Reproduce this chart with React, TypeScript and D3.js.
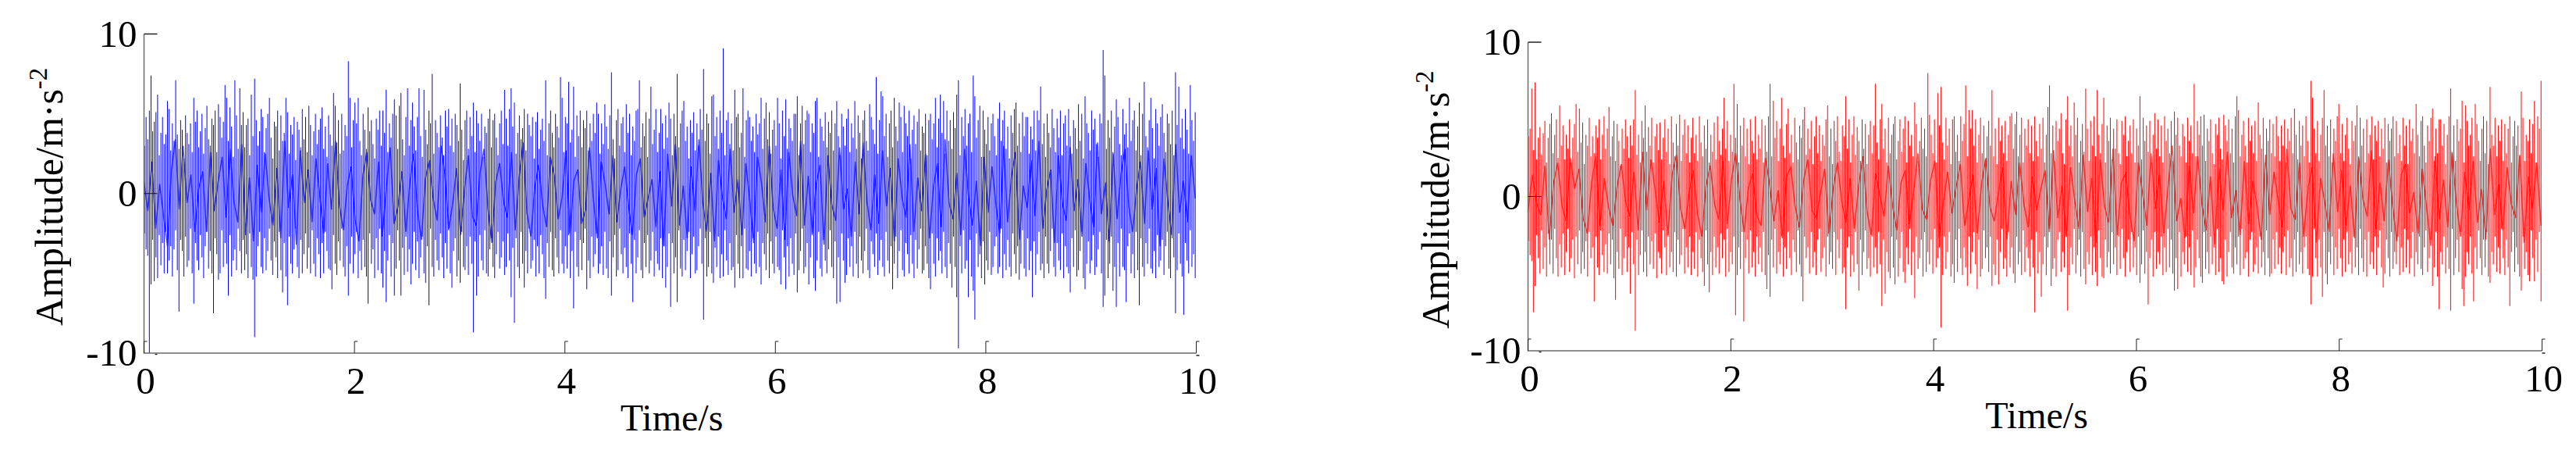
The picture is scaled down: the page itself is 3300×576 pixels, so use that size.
// Two vibration traces side by side. Each trace is stored per drawn column (max / min, in 0.1 m/s²)
// plus a fast core wander that shows as the dark blobs round zero.
import * as d3 from "d3";

const xTicks = [0, 2, 4, 6, 8, 10];
const yTicks = [-10, 0, 10];

const blueHigh = [
  30,48,34,52,74,39,45,51,62,24,38,48,31,37,58,53,27,44,33,71,
  37,28,46,40,22,49,38,31,44,26,60,45,52,29,39,50,25,41,55,34,
  30,47,43,52,26,56,48,35,45,68,60,33,54,42,23,71,49,28,66,43,
  51,29,43,47,24,62,36,72,46,30,39,53,48,26,41,50,60,35,22,45,
  42,52,27,49,33,38,60,51,25,43,37,48,21,45,40,29,53,34,48,26,
  55,43,24,39,50,31,40,47,54,28,42,23,49,37,30,63,55,32,46,25,
  50,27,43,36,83,60,29,46,57,44,60,33,24,50,40,28,54,39,46,31,
  22,47,40,52,30,52,38,65,26,44,35,50,59,49,28,55,63,34,24,48,
  66,30,46,57,42,27,48,66,36,23,65,40,31,52,44,75,25,46,38,29,
  49,35,24,52,42,53,30,47,26,50,43,33,69,40,21,46,52,28,48,36,
  57,26,52,44,33,50,23,42,38,47,53,29,46,50,35,24,44,52,31,65,
  47,30,53,66,42,57,25,38,49,34,41,53,27,50,43,36,48,22,45,51,
  28,40,47,33,71,24,44,52,38,29,50,42,35,73,60,26,48,44,70,32,
  40,67,23,49,36,52,29,46,41,52,27,44,33,50,38,57,50,25,44,31,
  56,42,28,49,76,34,22,46,53,30,44,48,26,56,38,50,24,42,33,52,
  53,71,29,44,36,51,23,47,67,31,40,53,26,38,53,44,28,49,35,57,
  47,24,50,36,75,29,44,52,58,33,42,22,46,38,51,27,44,30,53,40,
  78,33,50,44,25,61,62,36,48,28,52,38,91,24,46,51,31,44,27,65,
  48,50,29,38,66,23,46,52,48,33,42,26,50,37,44,60,28,47,57,34,
  51,25,40,46,30,60,44,22,52,36,59,28,47,41,33,50,50,61,24,44,
  55,31,46,52,50,26,44,38,58,60,23,47,42,33,51,29,45,38,52,27,
  44,58,36,24,50,42,30,47,53,26,44,35,58,28,49,38,22,46,52,33,
  27,56,48,40,31,73,25,46,64,61,36,50,23,44,52,29,60,42,33,57,
  48,26,55,44,36,52,22,40,49,31,45,53,27,42,38,50,24,46,50,34,
  44,60,29,47,62,38,58,25,52,33,46,28,51,41,62,71,24,48,36,53,
  30,44,50,26,74,61,35,46,55,23,52,40,31,48,27,44,50,36,24,47,
  57,33,46,52,28,42,22,49,38,53,57,30,44,26,51,36,48,48,25,42,
  34,52,27,52,46,67,31,44,23,50,38,29,53,41,26,47,35,52,24,44,
  49,30,53,36,25,46,41,28,56,33,50,22,61,44,38,27,52,40,47,31,
  23,50,44,90,74,28,46,35,52,26,42,59,48,31,24,53,37,44,29,60,
  33,46,52,27,42,57,24,50,70,36,29,46,60,41,22,53,44,30,48,56,
  38,26,50,44,31,52,24,76,43,67,35,47,28,53,40,25,68,46,33,51,
];
const blueLow = [
  -25,-35,-39,-100,-57,-29,-55,-40,-53,-26,-45,-31,-50,-24,-50,-42,-33,-52,-35,-23,
  -48,-74,-29,-36,-52,-27,-46,-42,-22,-50,-69,-31,-42,-48,-26,-40,-53,-33,-24,-47,
  -36,-50,-75,-28,-38,-54,-50,-23,-46,-31,-44,-64,-26,-52,-42,-35,-48,-22,-36,-50,
  -29,-48,-38,-53,-25,-46,-54,-90,-52,-33,-24,-46,-50,-28,-48,-36,-22,-42,-51,-30,
  -40,-53,-24,-48,-62,-31,-52,-70,-27,-44,-50,-35,-22,-46,-53,-29,-50,-38,-25,-47,
  -34,-50,-23,-44,-52,-28,-38,-53,-31,-50,-24,-36,-47,-48,-60,-26,-44,-51,-30,-42,
  -22,-46,-52,-33,-64,-44,-27,-50,-38,-24,-53,-36,-48,-29,-46,-52,-69,-25,-44,-35,
  -53,-28,-48,-22,-50,-59,-36,-68,-42,-26,-52,-31,-64,-47,-23,-42,-64,-34,-51,-27,
  -49,-35,-57,-44,-24,-48,-30,-53,-40,-27,-50,-56,-33,-70,-22,-46,-52,-29,-42,-48,
  -25,-40,-53,-31,-47,-23,-50,-59,-36,-28,-52,-42,-56,-24,-46,-48,-33,-51,-27,-44,
  -87,-30,-64,-52,-26,-42,-48,-23,-50,-52,-35,-28,-46,-53,-38,-24,-47,-40,-30,-51,
  -46,-25,-42,-65,-34,-81,-28,-46,-53,-24,-44,-59,-36,-50,-22,-47,-42,-29,-52,-33,
  -50,-26,-38,-53,-66,-31,-46,-24,-48,-52,-28,-40,-50,-23,-44,-50,-33,-47,-26,-53,
  -36,-72,-24,-46,-52,-29,-48,-31,-22,-60,-42,-53,-27,-46,-38,-25,-50,-44,-33,-51,
  -24,-47,-53,-30,-64,-40,-26,-52,-48,-22,-38,-50,-34,-46,-53,-25,-44,-68,-29,-50,
  -40,-23,-48,-53,-31,-46,-26,-50,-42,-24,-52,-36,-44,-48,-28,-53,-33,-59,-46,-25,
  -71,-31,-50,-40,-68,-23,-47,-52,-29,-48,-36,-24,-53,-38,-27,-50,-48,-33,-22,-44,
  -79,-28,-52,-46,-24,-50,-56,-34,-46,-27,-53,-38,-52,-23,-42,-51,-31,-48,-46,-59,
  -26,-44,-53,-33,-53,-22,-47,-48,-36,-52,-28,-44,-50,-24,-46,-57,-31,-38,-48,-25,
  -53,-30,-44,-50,-27,-46,-48,-57,-23,-40,-60,-33,-52,-28,-44,-51,-25,-62,-48,-36,
  -22,-50,-46,-31,-57,-40,-26,-53,-61,-42,-24,-47,-52,-29,-42,-50,-35,-23,-46,-53,
  -30,-69,-40,-68,-25,-42,-56,-51,-28,-46,-33,-52,-24,-44,-53,-27,-42,-50,-36,-22,
  -48,-53,-30,-38,-46,-25,-51,-42,-29,-46,-52,-24,-42,-50,-33,-60,-44,-27,-53,-36,
  -23,-48,-52,-31,-38,-50,-26,-44,-53,-29,-47,-35,-22,-50,-48,-33,-44,-53,-60,-25,
  -44,-52,-28,-42,-36,-50,-24,-46,-53,-31,-44,-59,-27,-46,-65,-97,-33,-50,-23,-47,
  -42,-65,-29,-52,-61,-79,-25,-46,-38,-53,-30,-57,-42,-48,-24,-51,-46,-33,-27,-50,
  -46,-22,-53,-38,-48,-29,-46,-52,-25,-38,-50,-33,-54,-44,-23,-47,-52,-28,-48,-36,
  -65,-30,-51,-38,-24,-48,-44,-53,-27,-44,-50,-36,-22,-46,-52,-31,-42,-48,-25,-53,
  -33,-46,-50,-62,-28,-46,-23,-52,-48,-36,-24,-53,-60,-44,-30,-50,-42,-26,-51,-46,
  -35,-24,-50,-71,-64,-29,-53,-44,-27,-61,-46,-71,-31,-52,-22,-46,-48,-68,-33,-25,
  -50,-38,-53,-24,-48,-70,-28,-46,-52,-31,-44,-22,-47,-50,-36,-53,-26,-46,-42,-29,
  -51,-33,-24,-47,-53,-28,-40,-75,-48,-25,-44,-52,-76,-31,-42,-50,-23,-46,-38,-53,
];
const blueCore = [
  7,-11,20,-22,6,-14,-33,14,34,-10,30,-6,12,-24,3,14,-24,26,-11,8,23,-15,28,-5,-18,31,-26,10,-30,18,
  -12,25,-3,-20,16,-28,33,-9,12,-32,27,-6,15,-18,22,-2,-25,19,-10,33,-7,-23,5,17,-16,-30,11,26,-4,-13,
  20,-27,3,29,-19,-8,14,-24,6,25,-11,-29,9,21,-3,-17,30,12,-22,-6,16,-26,2,24,-14,-20,13,28,-9,-31,
  7,19,-5,-15,26,-23,10,32,-12,-27,4,18,-7,-21,23,11,-16,-2,27,-25,8,15,-19,-10,29,-4,-28,20,6,-13,
  24,-18,3,17,-8,-26,12,22,-15,-3,9,-21,14,-33,25,-8,31,-20,5,-28,17,-11,34,-6,-24,13,-30,21,-2,-16,
  28,-12,9,-26,19,-4,-31,23,7,-18,30,-9,-22,15,-29,26,-1,-14,33,-20,11,-25,6,18,-32,24,-7,-17,29,-10,
  3,-27,20,-13,32,-5,-23,12,-19,27,-8,16,-30,22,-3,-15,31,-24,10,-11,25,-28,4,19,-21,34,-6,-16,13,-26,
  28,-2,-20,8,-33,23,-12,17,-7,-25,30,-18,11,26,-29,5,-9,21,-14,33,-22,2,15,-31,24,-6,-17,29,-11,9,
  -27,19,-4,-21,32,-13,7,-30,25,-16,12,28,-8,-24,3,20,-19,27,-10,16,-33,22,-5,-26,31,-12,8,-18,24,-3,
];

const redHigh = [
  39,44,70,30,74,24,38,45,27,41,49,22,38,47,54,28,40,50,25,59,
  33,46,24,40,31,50,22,38,47,60,29,57,35,48,21,40,33,51,26,39,
  28,46,38,50,24,40,52,31,44,58,26,39,49,23,47,36,20,44,31,50,
  39,25,46,33,50,69,27,40,22,49,38,59,29,45,33,51,22,39,47,30,
  48,24,38,50,29,44,21,52,35,26,47,33,53,23,40,50,28,46,22,38,
  51,28,40,23,52,35,26,46,31,50,22,40,29,48,24,52,36,27,44,64,
  31,49,23,40,29,73,38,60,22,46,33,51,26,44,21,50,36,28,52,24,
  40,31,50,22,46,29,52,73,26,62,38,49,23,44,64,33,25,47,57,28,
  40,22,51,35,24,46,38,50,58,27,44,31,49,21,39,52,28,46,23,40,
  33,50,59,26,44,21,49,36,52,29,23,46,39,65,31,50,22,40,52,27,
  45,36,23,50,31,47,21,40,49,28,46,73,35,24,50,60,31,44,22,51,
  28,40,47,52,24,36,50,29,44,52,22,49,33,40,26,61,47,23,36,51,
  31,44,26,80,53,40,28,50,22,67,46,71,35,24,51,33,44,21,50,52,
  29,40,23,52,36,47,72,26,56,44,56,33,50,22,40,51,28,46,24,39,
  49,33,69,26,44,21,51,36,46,28,49,23,40,52,54,31,47,55,26,40,
  51,22,44,33,50,28,46,23,52,36,26,47,31,51,22,40,58,72,28,46,
  23,49,36,44,54,28,21,50,65,33,46,26,61,40,51,22,36,47,29,70,
  44,23,49,33,52,26,69,40,28,47,64,22,46,36,51,24,44,31,50,28,
  21,49,40,52,26,36,46,28,50,22,44,33,65,24,51,36,46,29,49,22,
  40,54,31,50,26,46,22,52,36,44,28,49,23,55,40,51,33,26,47,39,
  22,51,36,46,28,73,26,49,40,52,33,53,23,44,36,50,28,21,47,40,
  51,31,24,53,46,36,50,28,44,22,52,65,56,26,40,49,33,22,51,36,
  46,28,49,23,61,40,31,51,22,44,36,50,28,47,26,52,39,23,46,33,
  50,22,44,36,51,28,57,40,24,49,33,46,26,52,36,22,75,64,44,28,
  49,23,40,51,69,33,46,26,50,22,44,36,52,60,28,47,23,40,51,31,
  21,49,36,46,59,26,51,33,44,22,50,28,40,52,24,46,36,49,26,44,
  31,51,22,47,36,44,52,26,49,28,40,23,51,33,46,21,50,36,44,28,
  60,40,26,49,52,33,22,46,36,51,57,23,44,28,50,50,33,47,21,40,
  52,70,28,46,23,50,36,44,62,22,59,49,33,40,51,26,60,47,36,23,
  44,52,28,49,21,71,40,33,51,26,46,36,50,23,47,28,44,52,22,39,
  49,33,46,26,68,51,23,40,36,50,28,47,62,22,52,44,75,
];
const redLow = [
  -29,-38,-42,-75,-58,-25,-40,-50,-22,-47,-33,-52,-24,-44,-28,-50,-21,-40,-52,-31,
  -46,-24,-51,-36,-21,-49,-40,-28,-53,-26,-44,-22,-50,-36,-47,-29,-52,-23,-40,-33,
  -68,-26,-46,-51,-22,-38,-49,-31,-50,-24,-44,-28,-53,-67,-36,-47,-21,-51,-40,-26,
  -49,-33,-63,-23,-44,-87,-28,-51,-38,-22,-49,-36,-52,-26,-44,-29,-47,-24,-53,-36,
  -40,-50,-22,-33,-51,-26,-46,-36,-49,-23,-52,-28,-44,-38,-21,-50,-33,-46,-26,-51,
  -36,-47,-23,-52,-28,-40,-49,-58,-22,-44,-62,-36,-51,-26,-46,-33,-50,-24,-40,-28,
  -52,-21,-49,-36,-44,-26,-77,-51,-33,-47,-23,-81,-40,-28,-50,-22,-46,-36,-52,-26,
  -44,-33,-49,-23,-51,-60,-38,-65,-28,-46,-21,-50,-36,-44,-26,-52,-33,-47,-23,-40,
  -51,-28,-36,-49,-22,-44,-52,-68,-26,-40,-33,-50,-23,-46,-36,-51,-28,-21,-49,-40,
  -33,-52,-26,-44,-36,-47,-23,-51,-28,-40,-21,-50,-46,-73,-33,-26,-52,-38,-49,-23,
  -44,-61,-28,-51,-36,-22,-47,-40,-52,-26,-46,-33,-50,-23,-44,-71,-28,-63,-36,-49,
  -53,-26,-46,-57,-28,-52,-40,-23,-49,-56,-33,-44,-21,-51,-36,-66,-26,-47,-40,-28,
  -52,-23,-49,-36,-44,-28,-50,-21,-46,-40,-33,-85,-51,-26,-47,-36,-23,-52,-44,-56,
  -28,-49,-21,-40,-51,-33,-46,-58,-26,-50,-36,-23,-44,-60,-28,-52,-47,-22,-40,-33,
  -49,-26,-58,-44,-51,-28,-57,-36,-21,-47,-40,-52,-23,-46,-33,-50,-56,-26,-44,-36,
  -51,-22,-49,-33,-40,-52,-28,-46,-75,-23,-50,-36,-65,-44,-26,-51,-33,-21,-58,-47,
  -40,-52,-28,-23,-49,-36,-46,-26,-74,-51,-33,-44,-21,-50,-38,-28,-52,-23,-47,-57,
  -36,-44,-26,-51,-33,-49,-58,-22,-40,-52,-53,-28,-46,-36,-50,-23,-44,-33,-51,-26,
  -47,-21,-40,-52,-36,-28,-49,-23,-46,-33,-51,-26,-56,-44,-22,-50,-36,-70,-40,-28,
  -52,-23,-47,-36,-44,-26,-51,-33,-49,-21,-46,-28,-50,-61,-40,-60,-23,-52,-36,-44,
  -26,-49,-33,-51,-22,-59,-46,-28,-40,-52,-56,-23,-47,-36,-50,-26,-44,-33,-51,-21,
  -49,-40,-55,-57,-28,-52,-36,-23,-46,-50,-33,-44,-26,-51,-21,-47,-40,-36,-52,-28,
  -23,-49,-44,-33,-50,-26,-46,-36,-51,-22,-40,-52,-50,-28,-47,-23,-44,-33,-50,-36,
  -26,-51,-22,-46,-40,-52,-28,-49,-23,-44,-36,-50,-33,-26,-47,-51,-70,-52,-21,-40,
  -52,-28,-46,-65,-23,-50,-57,-36,-44,-26,-51,-33,-47,-21,-40,-52,-28,-49,-23,-44,
  -36,-50,-26,-46,-33,-51,-21,-40,-49,-28,-52,-23,-44,-36,-47,-26,-51,-33,-22,-46,
  -59,-50,-28,-40,-52,-23,-47,-36,-44,-26,-51,-33,-49,-21,-46,-28,-50,-40,-23,-52,
  -36,-44,-26,-47,-51,-33,-22,-49,-40,-28,-58,-46,-23,-52,-73,-36,-44,-26,-50,-33,
  -47,-74,-21,-51,-40,-28,-49,-23,-60,-71,-52,-36,-44,-26,-50,-68,-33,-47,-22,-40,
  -51,-28,-46,-23,-52,-56,-36,-44,-26,-49,-33,-50,-21,-40,-51,-28,-46,-71,-36,-23,
  -49,-33,-44,-52,-61,-26,-47,-36,-51,-55,-22,-40,-55,-28,-49,-23,-68,
];
const redCore = [
  -10,14,-4,-12,20,-28,8,22,-6,-16,25,5,18,-14,-24,9,26,-19,12,-7,-19,6,21,-3,-13,16,-22,29,-9,24,
  4,-17,10,-25,14,27,-8,-21,3,17,-11,-26,7,20,-5,-15,23,-18,11,28,-2,-23,6,15,-12,-19,25,8,-16,4,
  -27,13,19,-6,-20,10,24,-9,-14,2,18,-24,5,22,-3,-17,12,-21,7,26,-10,-25,15,1,-13,20,-6,-22,9,17,
  -18,4,28,-8,-15,11,23,-27,-4,16,-11,6,21,-19,-2,14,-24,8,25,-7,-16,3,19,-28,10,-12,22,-5,-20,13,
  -9,5,17,-23,30,-14,7,-26,19,-3,-21,27,-10,12,-30,24,-6,-17,31,-25,9,15,-12,-29,22,2,-19,28,-8,14,
  -24,6,33,-16,-1,-27,20,-11,26,-5,-22,13,-31,18,-9,29,-14,4,-25,23,-18,10,-6,-28,27,-12,16,-3,-20,31,
  -8,-15,22,-26,5,19,-30,12,-4,-23,28,-10,17,-19,7,-27,25,-2,-13,30,-21,9,-16,24,-6,-29,14,21,-11,3,
  -24,18,-7,-32,26,-15,11,-20,29,-3,-26,16,-9,23,-17,5,-28,31,-12,8,-22,19,-5,-14,27,-30,13,-8,22,-19,
];

const FONT = "'Liberation Serif', 'Times New Roman', serif";

type PanelProps = {
  high: number[];
  low: number[];
  core: number[];
  color: string;
  x0: number;
  x1: number;
  yTop: number;
  yBottom: number;
  titleX: number;
};

function Panel({ high, low, core, color, x0, x1, yTop, yBottom, titleX }: PanelProps) {
  const x = d3.scaleLinear().domain([0, 10]).range([x0, x1]);
  const y = d3.scaleLinear().domain([-10, 10]).range([yBottom, yTop]);
  const at = d3.scaleLinear().domain([0, high.length - 1]).range([0.004, 9.99]);
  const coreAt = d3.scaleLinear().domain([0, core.length - 1]).range([0, 9.99]);

  // one vertical stroke per column, min to max
  const columns = high
    .map((h, i) => `M${x(at(i))},${y(h / 10)}V${y(low[i] / 10)}`)
    .join("");
  const coreLine = d3
    .line<number>()
    .x((_, i) => x(coreAt(i)))
    .y((d) => y(d / 10))(core);

  const midY = y(0);
  return (
    <g fontFamily={FONT} fill="#000">
      <path d={columns} stroke={color} strokeWidth={1} fill="none" />
      <path d={coreLine ?? ""} stroke={color} strokeWidth={1.5} strokeOpacity={0.7} fill="none" />

      <path d={`M${x0},${yTop}V${yBottom}H${x1}`} fill="none" stroke="#6b6b6b" strokeWidth={1.5} />
      {/* ticks are broken in the source: short stems with small hooks */}
      {xTicks.map((t) => (
        <path
          key={t}
          d={`M${x(t)},${yBottom}V${yBottom - 15}H${x(t) + 4}`}
          fill="none"
          stroke="#222"
          strokeWidth={1}
        />
      ))}
      <path d={`M${x1},${yBottom + 3}H${x1 + 4}`} stroke="#222" strokeWidth={1.5} />
      <path d={`M${x0},${yTop}H${x0 + 17}`} stroke="#222" strokeWidth={1.5} />
      <path d={`M${x0},${midY}H${x0 + 17}`} stroke="#111" strokeWidth={1} />
      <path d={`M${x0 + 14},${yBottom + 1.5}H${x0 + 17}`} stroke="#222" strokeWidth={1.5} />

      {xTicks.map((t) => (
        <text key={t} x={x(t) + 2} y={yBottom + 52} fontSize={49} textAnchor="middle">
          {t}
        </text>
      ))}
      {yTicks.map((t) => (
        <text key={t} x={x0 - 9} y={y(t) + 16} fontSize={49} textAnchor="end">
          {t}
        </text>
      ))}
      <text x={x(5) + 2} y={yBottom + 99} fontSize={48} textAnchor="middle">
        Time/s
      </text>
      <text
        transform={`translate(${titleX},${(yTop + yBottom) / 2 + 4}) rotate(-90)`}
        fontSize={50}
        textAnchor="middle"
      >
        Amplitude/m·s<tspan dy={-20} fontSize={33}>-2</tspan>
      </text>
    </g>
  );
}

export default function App() {
  return (
    <svg
      width={3300}
      height={576}
      style={{ position: "absolute", left: 0, top: 0, display: "block", background: "#fff" }}
    >
      <Panel high={blueHigh} low={blueLow} core={blueCore} color="#0000ff" x0={184.5} x1={1532.5} yTop={43.5} yBottom={452} titleX={80} />
      <Panel high={redHigh} low={redLow} core={redCore} color="#ff0000" x0={1957.5} x1={3256.5} yTop={54} yBottom={449} titleX={1856} />
    </svg>
  );
}
